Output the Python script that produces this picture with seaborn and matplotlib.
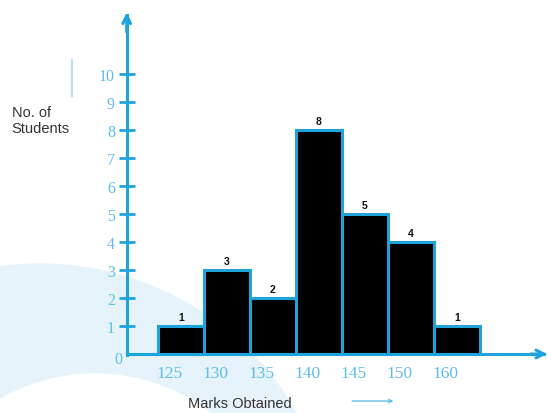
import matplotlib
matplotlib.use("Agg")
import matplotlib.pyplot as plt
import matplotlib.transforms as mtransforms
import seaborn as sns
from matplotlib.patches import Circle

# ---- data ----
bin_edges = [125, 130, 135, 140, 145, 150, 155, 160]
frequencies = [1, 3, 2, 8, 5, 4, 1]
x_tick_labels = ["125", "130", "135", "140", "145", "150", "160"]
y_ticks = [1, 2, 3, 4, 5, 6, 7, 8, 9, 10]
x_title = "Marks Obtained"
y_title = "No. of\nStudents"

mids = [(a + b) / 2 for a, b in zip(bin_edges[:-1], bin_edges[1:])]

sns.set_style("white")
plt.rcParams["font.family"] = ["Liberation Sans", "DejaVu Sans"]

CYAN = "#1ea3db"
LABEL_CYAN = "#5ebfe3"

fig = plt.figure(figsize=(5.48, 4.14), dpi=100)
ax = fig.add_axes([0, 0, 1, 1])
ax.set_xlim(107.83, 167.39)
ax.set_ylim(-2.107, 12.68)

# faint watermark background (pixel coordinates, y measured from top)
pix = mtransforms.Affine2D().scale(1, -1).translate(0, 414)
ax.add_patch(Circle((40, 560), 295, transform=pix, color="#e6f3fa", zorder=0))
ax.add_patch(Circle((95, 565), 190, transform=pix, color="white", zorder=0))

sns.histplot(x=mids, weights=frequencies, bins=bin_edges, ax=ax,
             color="black", edgecolor=CYAN, linewidth=2.2, alpha=1, zorder=3)

# value labels
for m, f in zip(mids, frequencies):
    ax.text(m, f + 0.15, str(f), ha="center", va="bottom", fontsize=7.5,
            fontweight="bold", color="#111111", zorder=5)

# axes
yx = 121.6
ax.spines["left"].set_position(("data", yx))
ax.spines["bottom"].set_position(("data", 0))
ax.spines["left"].set_bounds(-0.05, 12.1)
ax.spines["bottom"].set_bounds(yx, 167.0)
for s in ["left", "bottom"]:
    ax.spines[s].set_color(CYAN)
    ax.spines[s].set_linewidth(2.2)
    ax.spines[s].set_zorder(4)
ax.spines["top"].set_visible(False)
ax.spines["right"].set_visible(False)

ax.annotate("", xy=(yx, 12.2), xytext=(yx, 11.5),
            arrowprops=dict(arrowstyle="->", color=CYAN, lw=2.2,
                            mutation_scale=14, shrinkA=0, shrinkB=0))
ax.annotate("", xy=(167.3, 0), xytext=(165.5, 0),
            arrowprops=dict(arrowstyle="->", color=CYAN, lw=2.2,
                            mutation_scale=14, shrinkA=0, shrinkB=0))

ax.set_yticks(y_ticks)
ax.set_yticklabels([str(t) for t in y_ticks], family=["Liberation Serif"],
                   fontsize=11.5, color=LABEL_CYAN)
ax.tick_params(axis="y", direction="inout", length=11, width=2, color=CYAN,
               pad=3, left=True)

ax.set_xticks([e + 1.25 for e in bin_edges[:-1]])
ax.set_xticklabels(x_tick_labels, family=["Liberation Serif"], fontsize=12.5,
                   color=LABEL_CYAN)
ax.tick_params(axis="x", length=0, pad=8, bottom=True)

ax.text(120.65, -0.18, "0", ha="center", va="center", fontsize=11.5,
        family=["Liberation Serif"], color=LABEL_CYAN)

ax.set_xlabel("")
ax.set_ylabel("")
ax.text(109.1, 8.35, y_title, ha="left", va="center", fontsize=10.5,
        color="#333333", linespacing=1.2)
ax.text(128.3, -1.75, x_title, ha="left", va="center", fontsize=10.5,
        color="#333333")

ax.annotate("", xy=(115.65, 10.5), xytext=(115.65, 9.2),
            arrowprops=dict(arrowstyle="-", color="#b9dcee", lw=1.5,
                            shrinkA=0, shrinkB=0))
ax.annotate("", xy=(150.6, -1.68), xytext=(146.1, -1.68),
            arrowprops=dict(arrowstyle="->", color="#5ebfe3", lw=1.0,
                            mutation_scale=6, shrinkA=0, shrinkB=0))

fig.savefig("out.png", dpi=100)
